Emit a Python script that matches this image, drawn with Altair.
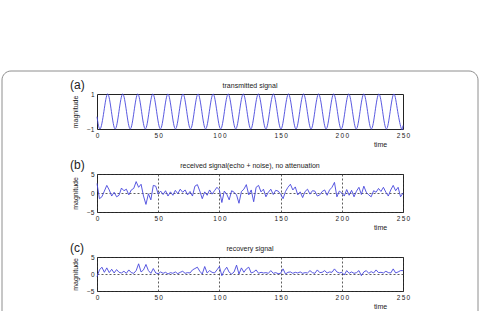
import altair as alt
import pandas as pd

FONT = "Liberation Sans"
BLUE = "#4646dc"

# (a) transmitted signal: extrema / zero crossings
sine_t = [0, 2.55, 5.63, 8.71, 11.78, 14.86, 17.94, 21.02, 24.09, 27.17, 30.25,
          33.33, 36.40, 39.48, 42.56, 45.64, 48.71, 51.79, 54.87, 57.95, 61.02,
          64.10, 67.18, 70.26, 73.33, 76.41, 79.49, 82.57, 85.64, 88.72, 91.80,
          94.88, 97.95, 101.03, 104.11, 107.19, 110.26, 113.34, 116.42, 119.50, 122.57,
          125.65, 128.73, 131.81, 134.88, 137.96, 141.04, 144.12, 147.19, 150.27, 153.35,
          156.43, 159.50, 162.58, 165.66, 168.74, 171.81, 174.89, 177.97, 181.05, 184.12,
          187.20, 190.28, 193.36, 196.43, 199.51, 202.59, 205.67, 208.74, 211.82, 214.90,
          217.98, 221.05, 224.13, 227.21, 230.29, 233.36, 236.44, 239.52, 242.60, 245.67,
          248.75, 250]
sine_v = [-0.3,
          -1, 0, 1, 0, -1, 0, 1, 0, -1, 0, 1, 0, -1, 0, 1, 0, -1, 0, 1, 0,
          -1, 0, 1, 0, -1, 0, 1, 0, -1, 0, 1, 0, -1, 0, 1, 0, -1, 0, 1, 0,
          -1, 0, 1, 0, -1, 0, 1, 0, -1, 0, 1, 0, -1, 0, 1, 0, -1, 0, 1, 0,
          -1, 0, 1, 0, -1, 0, 1, 0, -1, 0, 1, 0, -1, 0, 1, 0, -1, 0, 1, 0,
          -1, -0.8]

noise_t = list(range(0, 251, 2))

received = [2.5, -1.5, -1.0, 0.5, 2.0, 0.8, -0.8, 0.2, -1.0, -0.6,
            1.3, 0.6, 1.0, -0.5, 0.8, 1.2, 3.0, 1.5, 2.3, -0.8,
            -3.0, -0.2, -1.8, 2.0, 1.8, -0.3, 0.5, -0.4, 0.6, -0.8,
            0.3, -0.6, 0.7, -0.2, 1.0, 0.2, 0.8, -0.5, 0.4, -0.8,
            1.8, 2.2, 0.5, -1.5, 0.3, -0.6, 0.8, -0.3, 0.6, 1.5,
            0.8, -2.5, 0.5, -0.3, -1.8, 0.6, 0.2, -0.5, -2.7, 0.4,
            1.0, 2.2, -0.5, 0.8, -2.3, 1.5, 2.0, 0.3, 1.0, -1.0,
            0.2, 1.0, -0.4, 0.7, 0.5, -0.3, -1.5, 0.4, 1.5, 2.3,
            0.8, 1.6, -0.5, 0.3, -1.2, 0.4, 1.0, -0.3, 0.6, 0.5,
            -0.8, -0.5, 0.4, 0.8, -0.6, 0.8, 1.5, 2.8, -1.0, 0.5,
            0.0, -0.8, 0.9, -0.6, 0.7, -1.0, 0.5, 1.5, -0.4, 1.8,
            0.2, -0.5, -1.0, 0.6, 0.2, 1.2, 0.4, 1.5, 0.2, -0.8,
            0.8, 2.0, 0.6, 1.5, -1.0, 0.0]

recovery = [-0.8, 1.2, 2.0, 0.5, 1.8, 0.4, 1.4, 0.3, 1.3, 0.5,
            0.3, 0.8, 0.2, 1.2, 0.4, 0.2, 1.0, 3.0, 0.6, 1.2,
            2.8, 1.0, 0.2, 1.6, 0.3, 0.1, 0.6, 0.2, 0.5, 0.0,
            0.4, 0.2, 0.6, 0.1, 0.5, 0.8, 0.2, 0.4, 0.3, 1.2,
            1.6, 2.0, 0.8, 0.0, 2.2, 0.3, 1.0, 0.5, 0.3, 1.2,
            2.2, -0.5, 1.0, 2.0, 0.5, 0.0, 0.6, 2.6, 0.0, 1.8,
            0.5, 1.5, 2.0, 0.3, 0.6, 1.2, 0.2, 0.5, 0.3, 0.4,
            0.2, 1.0, 0.2, 0.4, 0.1, 0.2, 1.5, 0.0, 0.5, 0.6,
            0.2, 0.5, 0.3, 0.6, 0.2, 0.4, 0.3, 1.0, 0.4, 0.2,
            1.2, 0.4, 0.5, 1.0, 0.3, 0.6, 0.5, 1.5, 0.6, 0.3,
            0.5, -0.3, 1.0, 0.2, 0.6, 0.2, 0.4, 1.0, -0.5, 0.6,
            1.0, 0.2, 0.7, 0.3, 1.2, 0.4, 0.5, 0.3, 0.8, 0.4,
            0.3, 1.5, 0.3, 0.6, 1.0, 1.0]

x_ticks = [0, 50, 100, 150, 200, 250]
titles = ["transmitted signal",
          "received signal(echo + noise), no attenuation",
          "recovery signal"]
tags = ["(a)", "(b)", "(c)"]

W = 306


def panel(df, ydom, yticks, title, tag, h, grid, interp="linear", frame=False):
    xaxis = alt.Axis(values=x_ticks, title="time", titleX=283, titleY=15,
                     titleBaseline="middle", titleAlign="center",
                     labelExpr="join(split(datum.label, ''), '\u2009')",
                     labelFlush=False, ticks=False, tickSize=0, domain=False,
                     labelPadding=3, grid=grid, gridDash=[2, 2],
                     gridColor="#333", gridWidth=0.8, gridOpacity=1)
    yaxis = alt.Axis(values=yticks, format="d", title="magnitude", titleX=-22,
                     titleY=h / 2, titleAngle=-90, titleBaseline="middle",
                     titleAlign="center", ticks=False, tickSize=0, domain=False,
                     labelPadding=3, grid=grid, gridDash=[2, 2],
                     gridColor="#333", gridWidth=0.8, gridOpacity=1)
    line = alt.Chart(df).mark_line(color=BLUE, strokeWidth=0.9,
                                   interpolate=interp).encode(
        x=alt.X("t:Q", scale=alt.Scale(domain=[0, 250], nice=False, zero=False),
                axis=xaxis),
        y=alt.Y("v:Q", scale=alt.Scale(domain=ydom, nice=False), axis=yaxis),
    )
    lab = alt.Chart(pd.DataFrame({"s": [tag]})).mark_text(
        align="left", baseline="middle", fontSize=12, font=FONT, color="#222"
    ).encode(x=alt.value(-27), y=alt.value(-9.5), text="s:N")
    ttl = alt.Chart(pd.DataFrame({"s": [title]})).mark_text(
        align="center", baseline="middle", fontSize=7, font=FONT, color="#222"
    ).encode(x=alt.value(W / 2), y=alt.value(-8.5), text="s:N")
    layers = [line, lab, ttl]
    if frame:
        box = alt.Chart(pd.DataFrame({"k": [0]})).mark_rect(
            fillOpacity=0, stroke="#8e8e8e", strokeWidth=1, cornerRadius=9
        ).encode(x=alt.value(-95), x2=alt.value(381),
                 y=alt.value(-23), y2=alt.value(235))
        layers = [box] + layers
    return alt.layer(*layers).properties(width=W, height=h)


df_a = pd.DataFrame({"t": sine_t, "v": sine_v})
df_b = pd.DataFrame({"t": noise_t, "v": received})
df_c = pd.DataFrame({"t": noise_t, "v": recovery})

pa = panel(df_a, [-1, 1], [-1, 0, 1], titles[0], tags[0], 35, False,
           interp="natural", frame=True)
pb = panel(df_b, [-5, 5], [-5, 0, 5], titles[1], tags[1], 38, True)
pc = panel(df_c, [-5, 5], [-5, 0, 5], titles[2], tags[2], 34, True)

chart = alt.vconcat(pa, pb, pc, spacing=45, bounds="flush").properties(
    padding={"left": 1, "top": 70, "right": 0, "bottom": 0},
    background="white",
).configure_view(stroke="#222", strokeWidth=1).configure_axis(
    labelFont=FONT, labelFontSize=6.5, labelColor="#222",
    titleFont=FONT, titleFontSize=7, titleFontWeight="normal", titleColor="#222",
)

chart.save("out.html", embed_options={"renderer": "svg", "actions": False})
